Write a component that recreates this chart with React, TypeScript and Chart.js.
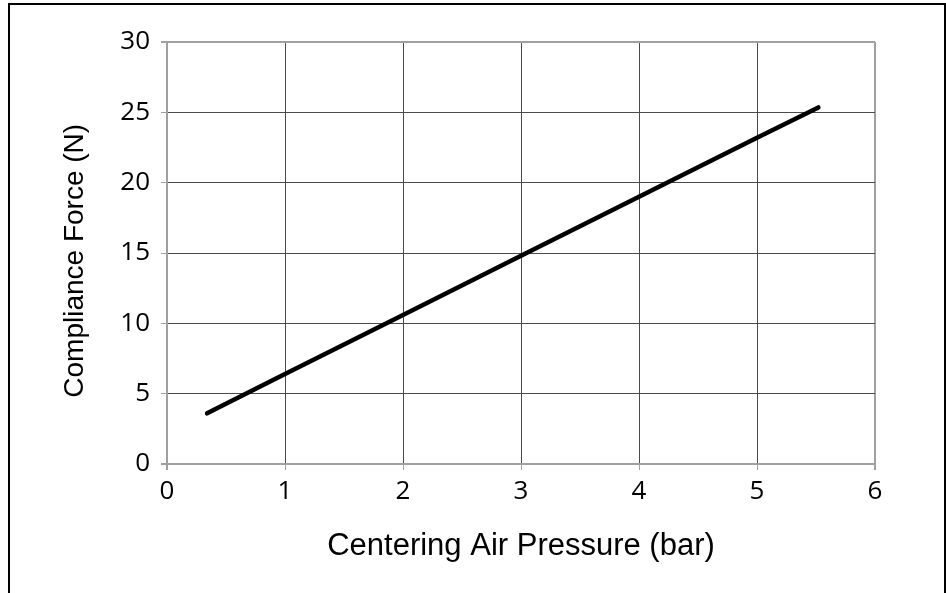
import React, { useEffect, useRef } from "react";
import { Chart, registerables } from "chart.js";

Chart.register(...registerables);

const pressureBar: number[] = [0.34, 1, 2, 3, 4, 5, 5.52];
const forceN: number[] = [3.6, 6.4, 10.6, 14.8, 19.0, 23.2, 25.35];
const xTitle = "Centering Air Pressure (bar)";
const yTitle = "Compliance Force (N)  ";

const GRID = "#4a4a4a";
const EDGE = "#a0a0a0";

export default function App() {
  const ref = useRef<HTMLCanvasElement | null>(null);
  useEffect(() => {
    if (!ref.current) return;
    const chart = new Chart(ref.current, {
      type: "scatter",
      data: {
        datasets: [
          {
            data: pressureBar.map((x, i) => ({ x, y: forceN[i] })),
            showLine: true,
            borderColor: "#000",
            borderWidth: 4.5,
            borderCapStyle: "round",
            pointRadius: 0,
            pointHoverRadius: 0,
          },
        ],
      },
      options: {
        animation: false,
        responsive: false,
        layout: { padding: { left: 0, top: 42, right: 71, bottom: 0 } },
        plugins: { legend: { display: false }, tooltip: { enabled: false } },
        scales: {
          x: {
            type: "linear",
            min: 0,
            max: 6,
            ticks: {
              stepSize: 1,
              color: "#000",
              padding: 6,
              font: { family: "'Open Sans'", size: 26 },
            },
            grid: {
              color: (c: any) => (c.tick && (c.tick.value === 6 || c.tick.value === 0) ? EDGE : GRID),
              lineWidth: (c: any) => (c.tick && (c.tick.value === 6 || c.tick.value === 0) ? 2 : 1),
              tickLength: 6,
              tickColor: EDGE,
            },
            border: { color: EDGE, width: 2 },
            title: {
              display: true,
              text: xTitle,
              color: "#000",
              font: { family: "'Liberation Sans'", size: 31 },
              padding: { top: 0, bottom: 28 },
            },
            afterFit: (s: any) => {
              s.height = 129;
            },
          },
          y: {
            min: 0,
            max: 30,
            ticks: {
              stepSize: 5,
              color: "#000",
              padding: 11,
              font: { family: "'Open Sans'", size: 26 },
            },
            grid: {
              color: (c: any) => (c.tick && (c.tick.value === 30 || c.tick.value === 0) ? EDGE : GRID),
              lineWidth: (c: any) => (c.tick && (c.tick.value === 30 || c.tick.value === 0) ? 2 : 1),
              tickLength: 6,
              tickColor: EDGE,
            },
            border: { color: EDGE, width: 2 },
            title: {
              display: true,
              text: yTitle,
              color: "#000",
              font: { family: "'Liberation Sans'", size: 28 },
              padding: { top: 58, bottom: 0 },
            },
            afterFit: (s: any) => {
              s.width = 167;
            },
          },
        },
      },
    });
    return () => chart.destroy();
  }, []);
  return (
    <div style={{ position: "fixed", left: 0, top: 0, width: 946, height: 593, overflow: "hidden", background: "#fff" }}>
      <canvas ref={ref} width={946} height={593} style={{ position: "absolute", left: 0, top: 0 }} />
      <div
        style={{
          position: "absolute",
          left: 8,
          top: 3,
          width: 934,
          height: 620,
          borderLeft: "2px solid #000",
          borderTop: "2px solid #000",
          borderRight: "2px solid #000",
          pointerEvents: "none",
        }}
      />
    </div>
  );
}
